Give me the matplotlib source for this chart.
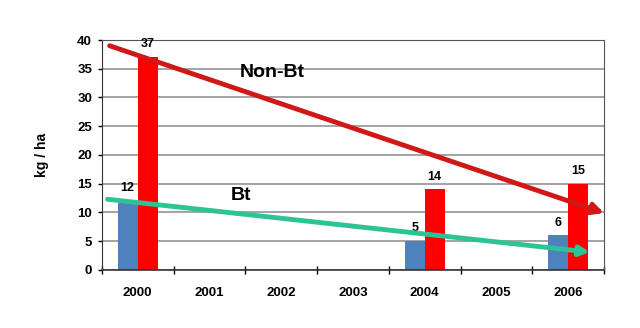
import matplotlib
matplotlib.use("Agg")
import matplotlib.pyplot as plt
import numpy as np

plt.rcParams["font.family"] = ["Liberation Sans", "DejaVu Sans"]

# ---------------------------------------------------------------------------
# Data
# ---------------------------------------------------------------------------
years = ["2000", "2001", "2002", "2003", "2004", "2005", "2006"]
bt = [12, np.nan, np.nan, np.nan, 5, np.nan, 6]
non_bt = [37, np.nan, np.nan, np.nan, 14, np.nan, 15]

# trend arrows (start, end) in data units: x = year index, y = kg/ha
nonbt_trend_x = [-0.39, 6.5]
nonbt_trend_y = [39.0, 9.9]
bt_trend_x = [-0.42, 6.3]
bt_trend_y = [12.3, 3.1]

BLUE = "#4F81BD"
RED = "#FF0000"
DARK_RED = "#D01818"
GREEN = "#2CC494"

# ---------------------------------------------------------------------------
# Figure
# ---------------------------------------------------------------------------
fig = plt.figure(figsize=(6.4, 3.28), dpi=100)
ax = fig.add_axes([0.159, 0.177, 0.785, 0.701])

x = np.arange(len(years))
w = 0.28
ax.bar(x - w / 2, bt, width=w, color=BLUE, zorder=2)
ax.bar(x + w / 2, non_bt, width=w, color=RED, zorder=2)

# value labels above bars
for xi, v in zip(x, bt):
    if not np.isnan(v):
        ax.text(xi - w / 2, v + 1.2, str(int(v)), ha="center", va="bottom",
                fontsize=9, fontweight="bold")
for xi, v in zip(x, non_bt):
    if not np.isnan(v):
        ax.text(xi + w / 2, v + 1.2, str(int(v)), ha="center", va="bottom",
                fontsize=9, fontweight="bold")

# trend arrows
ax.annotate("", xy=(nonbt_trend_x[1], nonbt_trend_y[1]),
            xytext=(nonbt_trend_x[0], nonbt_trend_y[0]),
            arrowprops=dict(arrowstyle="-|>", lw=3.5, color=DARK_RED,
                            mutation_scale=16, shrinkA=0, shrinkB=0),
            zorder=4, annotation_clip=False)
ax.annotate("", xy=(bt_trend_x[1], bt_trend_y[1]),
            xytext=(bt_trend_x[0], bt_trend_y[0]),
            arrowprops=dict(arrowstyle="-|>", lw=3.5, color=GREEN,
                            mutation_scale=14, shrinkA=0, shrinkB=0),
            zorder=4, annotation_clip=False)

ax.text(1.87, 34.3, "Non-Bt", ha="center", va="center", fontsize=14,
        fontweight="bold")
ax.text(1.44, 13.0, "Bt", ha="center", va="center", fontsize=14,
        fontweight="bold")

# axes
ax.set_xlim(-0.5, len(years) - 0.5)
ax.set_ylim(0, 40)
ax.set_yticks(range(0, 41, 5))
ax.set_xticks(x)
ax.set_xticklabels(years)
ax.set_xticks(np.arange(-0.5, len(years), 1.0), minor=True)
ax.tick_params(axis="x", which="major", length=0, pad=12)
ax.tick_params(axis="x", which="minor", length=6, width=1, direction="inout")
ax.tick_params(axis="y", length=3, width=1, pad=4)
for lbl in ax.get_xticklabels() + ax.get_yticklabels():
    lbl.set_fontweight("bold")
    lbl.set_fontsize(9.5)

ax.yaxis.grid(True, color="#8a8a8a", linewidth=1.1, zorder=0)
ax.set_axisbelow(True)
for side in ["top", "right"]:
    ax.spines[side].set_color("#555555")
ax.spines["left"].set_color("#333333")
ax.spines["bottom"].set_color("#333333")
ax.spines["bottom"].set_linewidth(1.2)

ax.set_ylabel("kg / ha", fontsize=10, fontweight="bold", labelpad=20)

fig.savefig("out.png", dpi=100)
